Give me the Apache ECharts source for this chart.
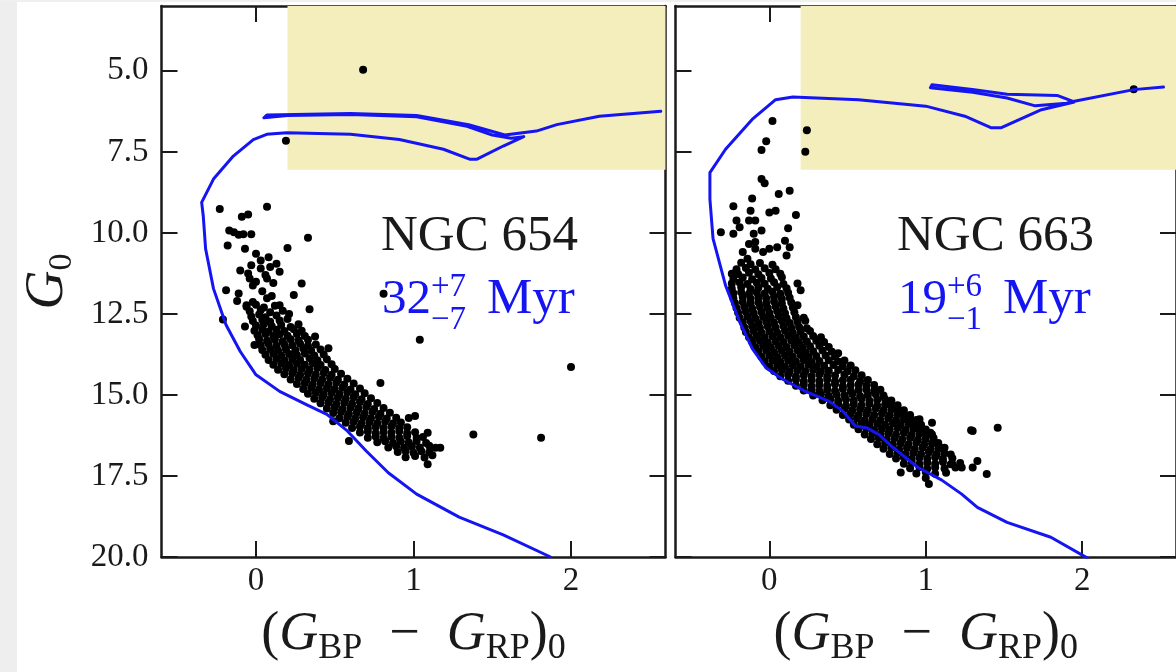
<!DOCTYPE html>
<html><head><meta charset="utf-8">
<script src="https://cdn.jsdelivr.net/npm/echarts@6/dist/echarts.min.js"></script>
<style>html,body{margin:0;padding:0;background:#fff}#c{width:1176px;height:672px}</style>
</head><body><div id="c"></div><script>
// ---------- data ----------
const xTicks = [0, 1, 2];
const yTicks = [5, 7.5, 10, 12.5, 15, 17.5, 20];
const xRange = [-0.6, 2.6];
const yRange = [3, 20];
const clusterNames = ['NGC 654', 'NGC 663'];
const ageMain = ['32', '19'];
const ageUp = ['+7', '+6'];
const ageDown = ['\u22127', '\u22121'];
const ageUnit = 'Myr';
// highlighted region: [x0, yTop, x1, yBottom]
const box654 = [[0.2, 3, 2.6, 8.05]];
const box663 = [[0.2, 3, 2.6, 8.05]];

const iso654 = [[1.87,20.0],[1.57,19.32],[1.29,18.77],[1.02,18.06],[0.84,17.40],[0.70,16.73],[0.58,16.11],[0.45,15.60],[0.32,15.30],[0.15,14.89],[0.00,14.38],[-0.10,13.66],[-0.19,12.84],[-0.27,11.72],[-0.32,10.49],[-0.335,9.47],[-0.345,9.06],[-0.27,8.34],[-0.144,7.63],[-0.017,7.12],[0.068,6.96],[0.195,6.91],[0.60,6.96],[0.91,7.12],[1.19,7.42],[1.36,7.73],[1.40,7.73],[1.57,7.32],[1.70,7.03],[1.62,7.08],[1.50,6.98],[1.34,6.71],[1.02,6.42],[0.60,6.35],[0.20,6.38],[0.05,6.45],[0.07,6.36],[0.60,6.32],[1.02,6.38],[1.35,6.66],[1.58,6.98],[1.78,6.86],[1.91,6.66],[2.18,6.40],[2.57,6.25]];

const iso663 = [[2.04,20.05],[1.80,19.39],[1.52,18.93],[1.33,18.47],[1.23,18.06],[1.10,17.62],[0.95,17.24],[0.78,16.58],[0.70,16.22],[0.62,16.01],[0.55,15.96],[0.47,15.50],[0.38,15.19],[0.23,14.89],[0.08,14.50],[-0.02,14.17],[-0.11,13.56],[-0.19,12.74],[-0.28,11.62],[-0.36,10.18],[-0.38,8.96],[-0.38,8.14],[-0.28,7.42],[-0.11,6.50],[0.04,5.89],[0.15,5.81],[0.57,5.89],[1.00,6.09],[1.25,6.40],[1.42,6.76],[1.48,6.76],[1.74,6.20],[1.95,5.96],[1.84,5.76],[1.52,5.72],[1.31,5.58],[1.04,5.43],[1.03,5.52],[1.30,5.66],[1.52,5.84],[1.70,6.08],[1.90,6.00],[1.95,5.94],[2.33,5.58],[2.52,5.50]];

const stars654 = [
[0.68,4.97],[0.19,7.16],
[-0.23,9.26],[0.07,9.19],[-0.09,9.50],[-0.05,9.43],
[-0.17,9.93],[-0.14,9.98],[-0.08,10.04],[-0.03,10.04],[-0.11,10.06],
[-0.18,10.39],[-0.07,10.49],[0.20,10.47],[0.33,10.15],
[0.00,10.64],[0.08,10.75],[0.13,10.95],[0.03,10.85],
[-0.10,11.16],[-0.03,11.00],[0.03,11.10],[0.09,11.05],[0.15,11.20],[-0.05,11.25],[0.06,11.30],
[-0.04,11.41],[0.00,11.51],[0.07,11.41],[0.11,11.55],[-0.02,11.62],[0.29,11.56],
[-0.19,11.77],[-0.11,11.87],[0.24,11.92],[0.34,12.36],[0.81,11.88],
[-0.12,12.10],[-0.06,12.23],[-0.02,12.13],[0.07,12.02],[0.15,12.23],[0.04,11.80],[0.10,11.95],
[-0.21,12.67],[-0.07,12.89],[-0.01,13.46],[0.375,13.20],[0.46,13.56],[0.79,14.63],[1.01,15.65],[1.09,16.17],[1.09,17.14],[0.97,15.71],[1.17,16.63],[0.59,16.42],[0.49,15.81],
[1.04,13.30],[1.38,16.22],[1.81,16.32],[2.00,14.14],
[-0.06,12.28],[0.00,12.22],[0.05,12.30],[0.12,12.25],
[-0.04,12.42],[0.03,12.38],[0.09,12.45],[0.17,12.40],
[-0.03,12.58],[0.02,12.52],[0.06,12.60],[0.13,12.55],[0.21,12.50],
[-0.02,12.72],[0.04,12.68],[0.09,12.74],[0.15,12.70],[0.20,12.66],
[0.00,12.86],[0.05,12.82],[0.10,12.88],[0.16,12.84],[0.22,12.90],[0.27,12.82],
[-0.01,13.02],[0.04,12.98],[0.08,13.04],[0.13,12.99],[0.18,13.03],[0.24,12.97],[0.29,13.02],
[0.01,13.16],[0.06,13.12],[0.11,13.18],[0.15,13.13],[0.20,13.17],[0.26,13.12],[0.31,13.18],
[0.02,13.28],[0.07,13.33],[0.12,13.29],[0.17,13.34],[0.22,13.28],[0.27,13.32],[0.33,13.30],
[0.03,13.47],[0.08,13.43],[0.13,13.48],[0.18,13.44],[0.23,13.47],[0.28,13.42],[0.33,13.48],[0.38,13.44],
[0.04,13.61],[0.09,13.58],[0.14,13.63],[0.19,13.59],[0.25,13.62],[0.30,13.57],[0.35,13.63],[0.41,13.60],
[0.06,13.76],[0.11,13.73],[0.16,13.78],[0.21,13.74],[0.26,13.77],[0.31,13.72],[0.37,13.78],[0.43,13.75],
[0.08,13.92],[0.13,13.88],[0.18,13.93],[0.23,13.89],[0.28,13.92],[0.34,13.87],[0.39,13.93],[0.45,13.90],
[0.11,14.07],[0.16,14.03],[0.21,14.08],[0.26,14.04],[0.31,14.07],[0.36,14.02],[0.41,14.08],[0.48,14.05],
[0.14,14.22],[0.19,14.18],[0.24,14.23],[0.29,14.19],[0.34,14.22],[0.39,14.17],[0.44,14.23],[0.50,14.20],
[0.18,14.36],[0.23,14.33],[0.28,14.38],[0.33,14.34],[0.38,14.37],[0.43,14.32],[0.48,14.38],[0.54,14.35],
[0.22,14.52],[0.27,14.48],[0.32,14.53],[0.37,14.49],[0.42,14.52],[0.47,14.47],[0.52,14.53],[0.58,14.50],
[0.26,14.66],[0.31,14.63],[0.36,14.68],[0.41,14.64],[0.46,14.67],[0.51,14.62],[0.56,14.68],[0.62,14.65],
[0.30,14.82],[0.35,14.78],[0.40,14.83],[0.45,14.79],[0.50,14.82],[0.55,14.77],[0.60,14.83],[0.66,14.80],
[0.33,14.96],[0.38,14.93],[0.43,14.98],[0.48,14.94],[0.53,14.97],[0.58,14.92],[0.63,14.98],[0.69,14.95],
[0.37,15.12],[0.42,15.08],[0.47,15.13],[0.52,15.09],[0.57,15.12],[0.62,15.07],[0.67,15.13],[0.73,15.10],
[0.41,15.26],[0.46,15.23],[0.51,15.28],[0.56,15.24],[0.61,15.27],[0.66,15.22],[0.71,15.28],[0.77,15.25],
[0.45,15.42],[0.50,15.38],[0.55,15.43],[0.60,15.39],[0.65,15.42],[0.70,15.37],[0.75,15.43],[0.81,15.40],
[0.49,15.56],[0.54,15.53],[0.59,15.58],[0.64,15.54],[0.69,15.57],[0.74,15.52],[0.79,15.58],[0.85,15.55],
[0.53,15.72],[0.58,15.68],[0.63,15.73],[0.68,15.69],[0.73,15.72],[0.78,15.67],[0.83,15.73],[0.89,15.70],
[0.57,15.86],[0.62,15.83],[0.67,15.88],[0.72,15.84],[0.77,15.87],[0.82,15.82],[0.87,15.88],[0.92,15.85],
[0.61,16.02],[0.66,15.98],[0.71,16.03],[0.76,15.99],[0.81,16.02],[0.86,15.97],[0.91,16.03],[0.96,16.00],
[0.66,16.16],[0.71,16.13],[0.76,16.18],[0.81,16.14],[0.86,16.17],[0.91,16.12],[0.96,16.18],[1.01,16.15],
[0.71,16.32],[0.76,16.28],[0.81,16.33],[0.86,16.29],[0.91,16.32],[0.96,16.27],[1.02,16.33],[1.06,16.30],
[0.77,16.46],[0.82,16.43],[0.87,16.48],[0.92,16.44],[0.97,16.47],[1.02,16.42],[1.08,16.48],
[0.84,16.62],[0.89,16.58],[0.94,16.63],[0.99,16.59],[1.04,16.62],[1.10,16.57],[1.14,16.63],
[0.90,16.76],[0.95,16.73],[1.00,16.78],[1.05,16.74],[1.10,16.77],
[0.95,16.92],[1.01,16.88],[1.07,16.93],[1.12,16.86]
];

const stars663 = [
[0.24,6.83],[0.23,7.50],[0.02,6.55],[-0.02,7.17],[-0.05,7.44],[-0.05,8.34],[-0.03,8.47],[0.06,8.80],[0.13,8.70],[-0.11,8.94],[2.33,5.57],
[-0.23,9.18],[-0.12,9.32],[0.00,9.37],[0.04,9.32],[0.17,9.45],
[-0.21,9.62],[-0.19,9.83],[-0.13,9.62],[-0.09,9.62],[-0.31,9.98],[-0.23,10.03],[-0.10,10.03],[-0.05,9.93],[0.12,9.86],
[-0.13,10.34],[-0.09,10.28],[0.05,10.44],[0.10,10.24],[0.11,10.70],[0.13,10.44],
[-0.17,10.59],[-0.14,10.80],[-0.09,10.49],[-0.04,10.59],[0.00,10.49],
[-0.24,11.26],[0.18,11.56],[0.20,11.77],[0.18,12.23],
[0.44,13.71],[1.46,16.01],[1.30,16.11],[1.39,17.44],[1.33,17.04],[0.96,15.75],[1.04,15.86],[1.03,16.17],[1.29,16.09],
[1.30,17.24],[1.23,17.24],[0.84,17.39],[1.02,17.75],[1.10,16.63],[1.16,17.14],
[-0.18,10.92],[-0.12,10.97],[-0.06,10.93],[0.02,10.98],
[-0.21,11.12],[-0.15,11.08],[-0.09,11.13],[-0.03,11.09],[0.04,11.12],
[-0.20,11.27],[-0.13,11.23],[-0.07,11.28],[0.00,11.24],[0.07,11.26],
[-0.23,11.42],[-0.17,11.38],[-0.11,11.43],[-0.05,11.39],[0.01,11.41],[0.08,11.37],
[-0.24,11.56],[-0.19,11.53],[-0.14,11.58],[-0.08,11.54],[-0.03,11.57],[0.03,11.52],[0.09,11.58],
[-0.24,11.72],[-0.18,11.68],[-0.12,11.73],[-0.07,11.69],[-0.01,11.72],[0.05,11.67],[0.11,11.71],
[-0.23,11.86],[-0.18,11.83],[-0.13,11.88],[-0.08,11.84],[-0.03,11.87],[0.02,11.82],[0.07,11.88],[0.12,11.85],
[-0.23,12.02],[-0.17,11.98],[-0.12,12.03],[-0.07,11.99],[-0.02,12.02],[0.03,11.97],[0.08,12.03],[0.13,12.00],
[-0.22,12.16],[-0.17,12.13],[-0.12,12.18],[-0.07,12.14],[-0.02,12.17],[0.03,12.12],[0.08,12.18],[0.14,12.15],
[-0.21,12.32],[-0.16,12.28],[-0.11,12.33],[-0.06,12.29],[-0.01,12.32],[0.04,12.27],[0.09,12.33],[0.15,12.30],
[-0.20,12.46],[-0.15,12.43],[-0.10,12.48],[-0.05,12.44],[0.00,12.47],[0.05,12.42],[0.10,12.48],[0.16,12.45],
[-0.19,12.62],[-0.14,12.58],[-0.09,12.63],[-0.04,12.59],[0.01,12.62],[0.06,12.57],[0.11,12.63],[0.17,12.60],[0.22,12.62],
[-0.17,12.76],[-0.12,12.73],[-0.07,12.78],[-0.02,12.74],[0.03,12.77],[0.08,12.72],[0.13,12.78],[0.18,12.75],[0.23,12.71],
[-0.16,12.92],[-0.11,12.88],[-0.06,12.93],[-0.01,12.89],[0.04,12.92],[0.09,12.87],[0.14,12.93],[0.19,12.90],[0.24,12.94],
[-0.15,13.06],[-0.10,13.03],[-0.05,13.08],[0.00,13.04],[0.05,13.07],[0.10,13.02],[0.15,13.08],[0.20,13.05],[0.26,13.03],
[-0.13,13.22],[-0.08,13.18],[-0.03,13.23],[0.02,13.19],[0.07,13.22],[0.12,13.17],[0.17,13.23],[0.22,13.20],[0.28,13.18],[0.33,13.22],
[-0.11,13.36],[-0.06,13.33],[-0.01,13.38],[0.04,13.34],[0.09,13.37],[0.14,13.32],[0.19,13.38],[0.24,13.35],[0.30,13.33],[0.35,13.37],
[-0.09,13.52],[-0.04,13.48],[0.01,13.53],[0.06,13.49],[0.11,13.52],[0.16,13.47],[0.21,13.53],[0.26,13.50],[0.32,13.48],[0.38,13.52],
[-0.07,13.66],[-0.02,13.63],[0.03,13.68],[0.08,13.64],[0.13,13.67],[0.18,13.62],[0.23,13.68],[0.28,13.65],[0.34,13.63],[0.40,13.67],
[-0.05,13.82],[0.00,13.78],[0.05,13.83],[0.10,13.79],[0.15,13.82],[0.20,13.77],[0.25,13.83],[0.30,13.80],[0.36,13.78],[0.42,13.82],
[-0.03,13.96],[0.02,13.93],[0.07,13.98],[0.12,13.94],[0.17,13.97],[0.22,13.92],[0.27,13.98],[0.32,13.95],[0.38,13.93],[0.44,13.97],[0.48,13.94],
[0.00,14.12],[0.05,14.08],[0.10,14.13],[0.15,14.09],[0.20,14.12],[0.25,14.07],[0.30,14.13],[0.35,14.10],[0.41,14.08],[0.47,14.12],[0.52,14.09],
[0.03,14.26],[0.08,14.23],[0.13,14.28],[0.18,14.24],[0.23,14.27],[0.28,14.22],[0.33,14.28],[0.38,14.25],[0.44,14.23],[0.50,14.27],[0.55,14.24],
[0.07,14.42],[0.12,14.38],[0.17,14.43],[0.22,14.39],[0.27,14.42],[0.32,14.37],[0.37,14.43],[0.42,14.40],[0.48,14.38],[0.54,14.42],[0.59,14.39],
[0.12,14.56],[0.17,14.53],[0.22,14.58],[0.27,14.54],[0.32,14.57],[0.37,14.52],[0.42,14.58],[0.47,14.55],[0.52,14.53],[0.58,14.57],[0.63,14.54],
[0.17,14.72],[0.22,14.68],[0.27,14.73],[0.32,14.69],[0.37,14.72],[0.42,14.67],[0.47,14.73],[0.52,14.70],[0.57,14.68],[0.62,14.72],[0.67,14.69],
[0.22,14.86],[0.27,14.83],[0.32,14.88],[0.37,14.84],[0.42,14.87],[0.47,14.82],[0.52,14.88],[0.57,14.85],[0.62,14.83],[0.67,14.87],[0.71,14.84],
[0.28,15.02],[0.33,14.98],[0.38,15.03],[0.43,14.99],[0.48,15.02],[0.53,14.97],[0.58,15.03],[0.63,15.00],[0.68,14.98],[0.73,15.02],
[0.34,15.16],[0.39,15.13],[0.44,15.18],[0.49,15.14],[0.54,15.17],[0.59,15.12],[0.64,15.18],[0.69,15.15],[0.74,15.13],[0.78,15.17],
[0.39,15.32],[0.44,15.28],[0.49,15.33],[0.54,15.29],[0.59,15.32],[0.64,15.27],[0.69,15.33],[0.74,15.30],[0.78,15.28],[0.82,15.32],
[0.43,15.46],[0.48,15.43],[0.53,15.48],[0.58,15.44],[0.63,15.47],[0.68,15.42],[0.73,15.48],[0.78,15.45],[0.82,15.43],[0.86,15.47],
[0.47,15.62],[0.52,15.58],[0.57,15.63],[0.62,15.59],[0.67,15.62],[0.72,15.57],[0.77,15.63],[0.82,15.60],[0.86,15.58],[0.90,15.62],
[0.51,15.76],[0.56,15.73],[0.61,15.78],[0.66,15.74],[0.71,15.77],[0.76,15.72],[0.81,15.78],[0.86,15.75],[0.90,15.73],[0.94,15.77],
[0.54,15.92],[0.59,15.88],[0.64,15.93],[0.69,15.89],[0.74,15.92],[0.79,15.87],[0.84,15.93],[0.89,15.90],[0.93,15.88],[0.97,15.92],
[0.57,16.06],[0.62,16.03],[0.67,16.08],[0.72,16.04],[0.77,16.07],[0.82,16.02],[0.87,16.08],[0.92,16.05],[0.96,16.03],[1.00,16.07],
[0.61,16.22],[0.66,16.18],[0.71,16.23],[0.76,16.19],[0.81,16.22],[0.86,16.17],[0.91,16.23],[0.96,16.20],[1.00,16.18],[1.04,16.22],
[0.65,16.36],[0.70,16.33],[0.75,16.38],[0.80,16.34],[0.85,16.37],[0.90,16.32],[0.95,16.38],[1.00,16.35],[1.05,16.33],
[0.69,16.52],[0.74,16.48],[0.79,16.53],[0.84,16.49],[0.89,16.52],[0.94,16.47],[0.99,16.53],[1.04,16.50],[1.08,16.48],
[0.73,16.66],[0.78,16.63],[0.83,16.68],[0.88,16.64],[0.93,16.67],[0.98,16.62],[1.03,16.68],[1.08,16.65],[1.12,16.63],
[0.77,16.82],[0.82,16.78],[0.87,16.83],[0.92,16.79],[0.97,16.82],[1.02,16.77],[1.07,16.83],[1.12,16.80],[1.16,16.84],
[0.81,16.96],[0.86,16.93],[0.91,16.98],[0.96,16.94],[1.01,16.97],[1.06,16.92],[1.11,16.98],[1.17,16.95],
[0.86,17.12],[0.91,17.08],[0.96,17.13],[1.01,17.09],[1.06,17.12],[1.11,17.07],[1.17,17.13],[1.22,17.10],
[0.90,17.26],[0.96,17.23],[1.01,17.28],[1.06,17.24],[1.12,17.27],[1.19,17.24],
[0.94,17.42],[1.00,17.38],[1.06,17.43],[1.13,17.40],
[1.00,17.56]
];

// ---------- styling ----------
const SERIF = 'Liberation Serif';
const INK = '#1a1a1a';
const BLUE = '#1515f2';
const YELLOW = '#f4eebc';
const GRID_LEFT = [161.5, 675.5];

function xAxisDef(gi, pos, withLabel) {
  return {
    type: 'value', gridIndex: gi, position: pos, min: xRange[0], max: xRange[1],
    axisLine: { show: true, onZero: false, lineStyle: { color: INK, width: 2.5 } },
    axisTick: { show: true, inside: true, length: 16, customValues: xTicks, lineStyle: { color: INK, width: 2 } },
    axisLabel: withLabel ? { show: true, customValues: xTicks, fontSize: 33, fontFamily: SERIF, color: INK, margin: 8 } : { show: false },
    splitLine: { show: false },
    name: withLabel ? '{p|(}{g|G}{s|BP}{p|  \u2212  }{g|G}{s|RP}{p|)}{s|0}' : '',
    nameLocation: 'middle', nameGap: 46,
    nameTextStyle: { rich: {
      p: { fontSize: 54, fontFamily: SERIF, color: INK, lineHeight: 64 },
      g: { fontSize: 54, fontFamily: SERIF, fontStyle: 'italic', color: INK, lineHeight: 64 },
      s: { fontSize: 36, fontFamily: SERIF, color: INK, lineHeight: 64, verticalAlign: 'bottom' }
    } }
  };
}
function yAxisDef(gi, pos, withLabel) {
  return {
    type: 'value', gridIndex: gi, position: pos, inverse: true, min: yRange[0], max: yRange[1],
    axisLine: { show: true, onZero: false, lineStyle: { color: INK, width: 2.5 } },
    axisTick: { show: true, inside: true, length: 16, customValues: yTicks, lineStyle: { color: INK, width: 2 } },
    axisLabel: withLabel ? { show: true, customValues: yTicks, fontSize: 33, fontFamily: SERIF, color: INK, margin: 13, formatter: v => Number(v).toFixed(1) } : { show: false },
    splitLine: { show: false },
    name: withLabel ? '{g|G}{s|0}' : '',
    nameLocation: 'middle', nameRotate: 90, nameGap: 82,
    nameTextStyle: { rich: {
      g: { fontSize: 54, fontFamily: SERIF, fontStyle: 'italic', color: INK, lineHeight: 64 },
      s: { fontSize: 34, fontFamily: SERIF, color: INK, lineHeight: 64, verticalAlign: 'bottom' }
    } }
  };
}

function boxSeries(data, xi, yi) {
  return {
    type: 'custom', xAxisIndex: xi, yAxisIndex: yi, z: 1, silent: true, data: data,
    renderItem: function (params, api) {
      const a = api.coord([api.value(0), api.value(1)]);
      const b = api.coord([api.value(2), api.value(3)]);
      return { type: 'rect', shape: { x: a[0], y: a[1], width: b[0] - a[0], height: b[1] - a[1] }, style: { fill: YELLOW } };
    }
  };
}
function starSeries(data, xi, yi) {
  return { type: 'scatter', xAxisIndex: xi, yAxisIndex: yi, z: 2, data: data, symbol: 'circle', symbolSize: 8,
    itemStyle: { color: '#000', opacity: 1 }, silent: true, animation: false };
}
function isoSeries(data, xi, yi) {
  return { type: 'line', xAxisIndex: xi, yAxisIndex: yi, z: 3, data: data, showSymbol: false, smooth: false,
    lineStyle: { color: BLUE, width: 3, join: 'round', cap: 'round' }, silent: true, animation: false };
}

function panelText(i) {
  const x0 = [381, 897][i];
  const els = [];
  els.push({ type: 'text', x: x0, y: 237, style: { text: clusterNames[i], fontSize: 51, fontFamily: SERIF, fill: INK, align: 'left', verticalAlign: 'middle' } });
  els.push({ type: 'text', x: x0 + 1, y: 300, style: { text: ageMain[i], fontSize: 49, fontFamily: SERIF, fill: BLUE, align: 'left', verticalAlign: 'middle' } });
  els.push({ type: 'text', x: x0 + 50, y: 287, style: { text: ageUp[i], fontSize: 33, fontFamily: SERIF, fill: BLUE, align: 'left', verticalAlign: 'middle' } });
  els.push({ type: 'text', x: x0 + 50, y: 320, style: { text: ageDown[i], fontSize: 33, fontFamily: SERIF, fill: BLUE, align: 'left', verticalAlign: 'middle' } });
  els.push({ type: 'text', x: x0 + 106, y: 300, style: { text: ageUnit, fontSize: 51, fontFamily: SERIF, fill: BLUE, align: 'left', verticalAlign: 'middle' } });
  return els;
}

const chart = echarts.init(document.getElementById('c'), null, { renderer: 'canvas' });
chart.setOption({
  animation: false,
  backgroundColor: '#ffffff',
  grid: [
    { left: GRID_LEFT[0], top: 6, width: 504, height: 555 },
    { left: GRID_LEFT[1], top: 6, width: 504, height: 555 }
  ],
  xAxis: [xAxisDef(0, 'bottom', true), xAxisDef(0, 'top', false), xAxisDef(1, 'bottom', true), xAxisDef(1, 'top', false)],
  yAxis: [yAxisDef(0, 'left', true), yAxisDef(0, 'right', false), yAxisDef(1, 'left', false), yAxisDef(1, 'right', false)],
  series: [
    boxSeries(box654, 0, 0), starSeries(stars654, 0, 0), isoSeries(iso654, 0, 0),
    boxSeries(box663, 2, 2), starSeries(stars663, 2, 2), isoSeries(iso663, 2, 2)
  ],
  graphic: [
    { type: 'rect', z: -10, silent: true, shape: { x: 0, y: 0, width: 17, height: 672 }, style: { fill: '#eeeeee' } },
    { type: 'rect', z: -10, silent: true, shape: { x: 0, y: 0, width: 1176, height: 2 }, style: { fill: '#f0f0f0' } }
  ].concat(panelText(0), panelText(1))
});
</script></body></html>
